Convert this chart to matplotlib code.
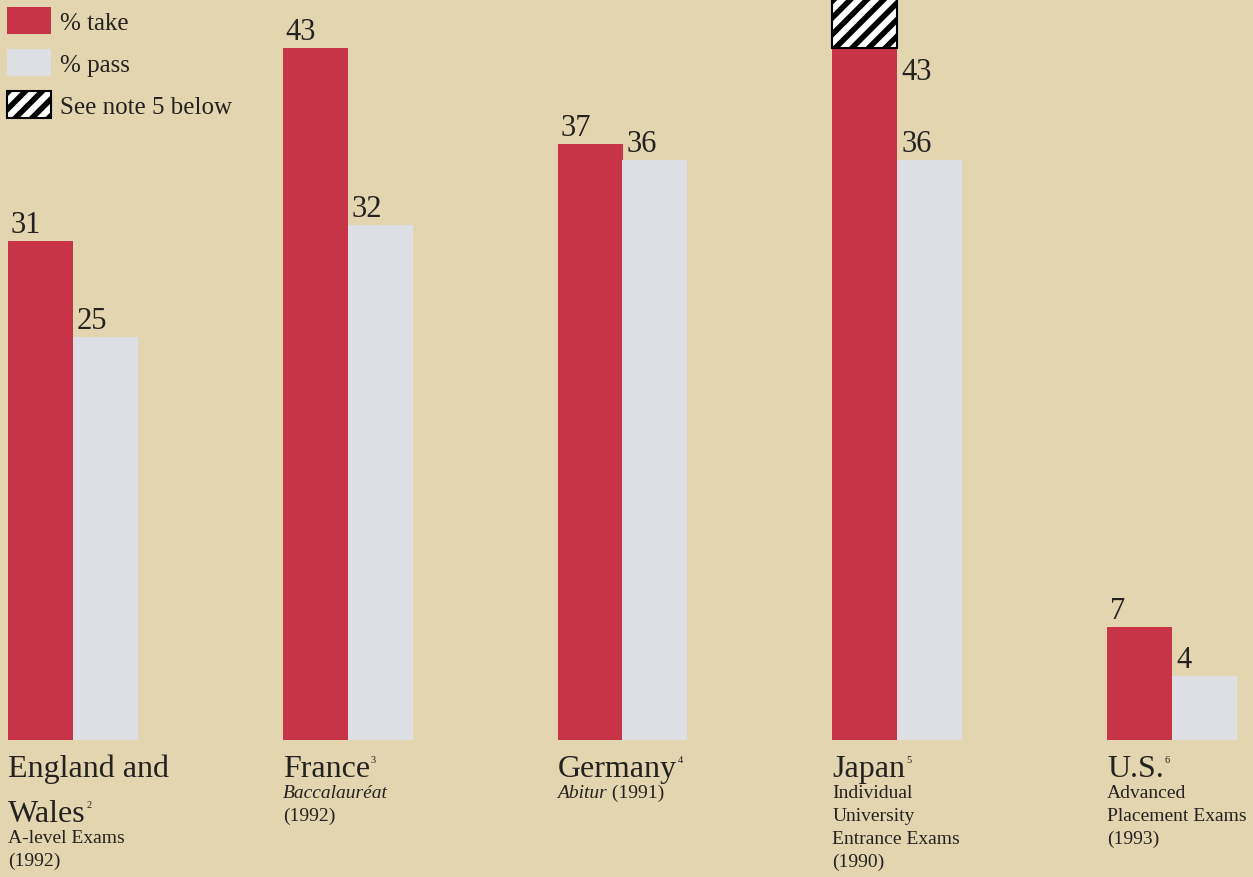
import matplotlib
matplotlib.use("Agg")
import matplotlib.pyplot as plt
import matplotlib.transforms as mtransforms
from matplotlib.patches import Patch
import numpy as np

# ---------------- data ----------------
countries = ["England and\nWales", "France", "Germany", "Japan", "U.S."]
footnotes = ["2", "3", "4", "5", "6"]
exam_lines = [
    [[("A-level Exams", "normal")], [("(1992)", "normal")]],
    [[("Baccalauréat", "italic")], [("(1992)", "normal")]],
    [[("Abitur", "italic"), (" (1991)", "normal")]],
    [[("Individual", "normal")], [("University", "normal")],
     [("Entrance Exams", "normal")], [("(1990)", "normal")]],
    [[("Advanced", "normal")], [("Placement Exams", "normal")], [("(1993)", "normal")]],
]
pct_take = [31, 43, 37, 43, 7]
pct_pass = [25, 32, 36, 36, 4]
note5_extra = [0, 0, 0, 4, 0]   # hatched segment (Japan, clipped at top)
legend_labels = ["% take", "% pass", "See note 5 below"]

# ---------------- style ----------------
BG = "#E3D5AF"
RED = "#C83447"
LIGHT = "#DDDFE4"
TXT = "#242220"
SERIF = ["Liberation Serif", "DejaVu Serif"]
plt.rcParams["hatch.linewidth"] = 4.0
plt.rcParams["font.family"] = SERIF

W_PX, H_PX = 1253, 878
fig = plt.figure(figsize=(W_PX / 100, H_PX / 100), dpi=100, facecolor=BG)
ax = fig.add_axes([0, 0, 1, 1])
ax.set_facecolor(BG)
ax.axis("off")

px_per_group = 274.75
px_per_unit = 16.1
ax.set_xlim(-73 / px_per_group, (W_PX - 73) / px_per_group)
ax.set_ylim(-(H_PX - 741) / px_per_unit, 741 / px_per_unit)

x = np.arange(len(countries))
w = 65 / px_per_group

ax.bar(x - w / 2, pct_take, w, color=RED, linewidth=0)
ax.bar(x + w / 2, pct_pass, w, color=LIGHT, linewidth=0)
extra = np.array(note5_extra)
take_arr = np.array(pct_take)
m = extra > 0
ax.bar(x[m] - w / 2, extra[m], w, bottom=take_arr[m], facecolor="white",
       edgecolor="black", hatch="//", linewidth=1.5)

# value labels
VFS = 22
for i in range(len(countries)):
    if extra[i] > 0:
        ax.annotate(str(pct_take[i]), (x[i], pct_take[i]), xytext=(4, -9),
                    textcoords="offset pixels", ha="left", va="top",
                    fontsize=VFS, color=TXT)
    else:
        ax.annotate(str(pct_take[i]), (x[i] - w, pct_take[i]), xytext=(3, 9),
                    textcoords="offset pixels", ha="left", va="baseline",
                    fontsize=VFS, color=TXT)
    ax.annotate(str(pct_pass[i]), (x[i], pct_pass[i]), xytext=(4, 9),
                textcoords="offset pixels", ha="left", va="baseline",
                fontsize=VFS, color=TXT)

# country labels
trans = mtransforms.blended_transform_factory(ax.transData, fig.transFigure)
renderer = fig.canvas.get_renderer()
ident = mtransforms.IdentityTransform()

def fy(py):
    return 1 - py / H_PX

for i, name in enumerate(countries):
    lines = name.split("\n")
    base = 777
    last = None
    for j, ln in enumerate(lines):
        t = ax.text(x[i] - w, fy(base + 45 * j), ln, transform=trans,
                    ha="left", va="baseline", fontsize=23, color=TXT)
        last = t
        last_base = base + 45 * j
    bb = last.get_window_extent(renderer)
    ax.text(bb.x1 + 1, H_PX - (last_base - 21), footnotes[i], transform=ident,
            ha="left", va="top", fontsize=7.5, color=TXT)
    y0 = last_base + 21
    for k, segs in enumerate(exam_lines[i]):
        yb = y0 + 23 * k
        cur = None
        for s, style in segs:
            if cur is None:
                t = ax.text(x[i] - w, fy(yb), s, transform=trans, ha="left",
                            va="baseline", fontsize=14, style=style, color=TXT)
            else:
                t = ax.text(cur, H_PX - yb, s, transform=ident, ha="left",
                            va="baseline", fontsize=14, style=style, color=TXT)
            cur = t.get_window_extent(renderer).x1

# legend
handles = [Patch(facecolor=RED, edgecolor="none"),
           Patch(facecolor=LIGHT, edgecolor="none"),
           Patch(facecolor="white", edgecolor="black", hatch="//", linewidth=1.5)]
fs = 18
fs_px = fs * 100 / 72
ax.legend(handles, legend_labels, loc="upper left",
          bbox_to_anchor=(7 / W_PX, 1 - 8 / H_PX), bbox_transform=fig.transFigure,
          frameon=False, borderpad=0, borderaxespad=0, fontsize=fs,
          handlelength=44 / fs_px, handleheight=32 / fs_px,
          labelspacing=15 / fs_px, handletextpad=9 / fs_px, labelcolor=TXT)

fig.savefig("out.png", dpi=100, facecolor=BG)
